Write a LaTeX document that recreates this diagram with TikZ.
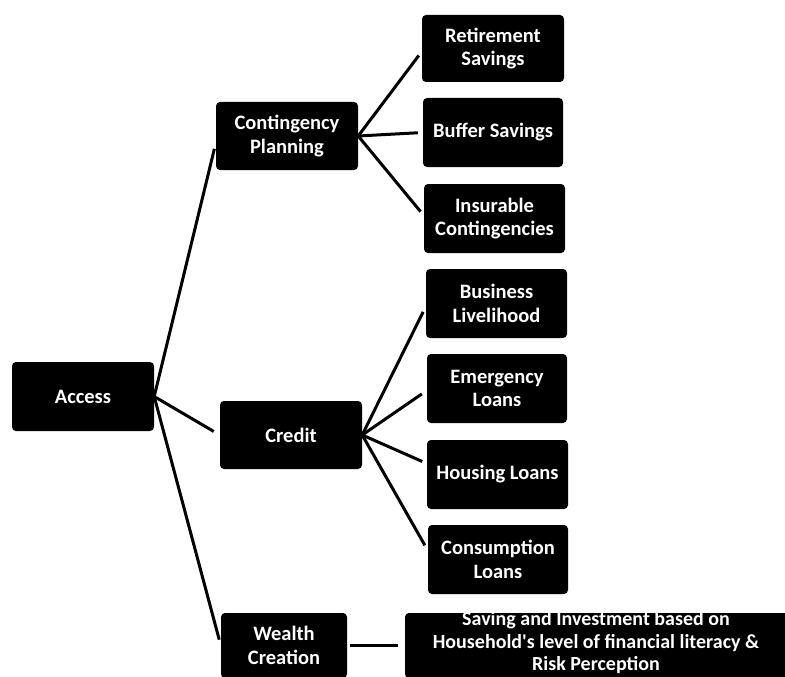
\documentclass[tikz,border=0pt]{standalone}
\usepackage{fontspec}
\setmainfont{Carlito}
\usetikzlibrary{calc}

\tikzset{
  box/.style={fill=black, text=white, rounded corners=4pt, align=center,
    inner sep=0pt, font=\bfseries\fontsize{20.5}{23.5}\selectfont},
  link/.style={line width=3pt, black},
}

\begin{document}
\begin{tikzpicture}[x=1pt, y=-1pt]
  \useasboundingbox (0,0) rectangle (785,677);

  % root
  \node[box, minimum width=142pt, minimum height=69pt] (access) at (83,396.5) {Access};

  % second level
  \node[box, minimum width=142pt, minimum height=68pt] (cp) at (287,136) {Contingency\\Planning};
  \node[box, minimum width=142pt, minimum height=68pt] (credit) at (291,435) {Credit};
  \node[box, minimum width=126pt, minimum height=65pt] (wealth) at (284,645.5) {Wealth\\Creation};

  % contingency planning leaves
  \node[box, minimum width=142pt, minimum height=67pt] (retire) at (493,48.5) {Retirement\\Savings};
  \node[box, minimum width=140pt, minimum height=69pt] (buffer) at (493,132.5) {Buffer Savings};
  \node[box, minimum width=141pt, minimum height=69pt] (insure) at (494.5,218.5) {Insurable\\Contingencies};

  % credit leaves
  \node[box, minimum width=141pt, minimum height=69pt] (business) at (496.5,303.5) {Business\\Livelihood};
  \node[box, minimum width=140pt, minimum height=69pt] (emerg) at (497,388.5) {Emergency\\Loans};
  \node[box, minimum width=141pt, minimum height=69pt] (housing) at (497.5,474.5) {Housing Loans};
  \node[box, minimum width=140pt, minimum height=69pt] (consume) at (498,559.5) {Consumption\\Loans};

  % wealth creation leaf
  \node[box, minimum width=384pt, minimum height=65pt, font=\bfseries\fontsize{20}{22.5}\selectfont]
    (saving) at (597,645.5) {};
  \node[text=white, align=center, inner sep=0pt, font=\bfseries\fontsize{20}{22.5}\selectfont]
    (savingtext) at (596,643)
    {Saving and Investment based on\\Household\textquotesingle s level of financial literacy \&\\Risk Perception};

  % connectors from the root
  \draw[link, shorten >=6pt] (access.east) -- ($(cp.west)+(0,7)$);
  \draw[link, shorten >=7pt] (access.east) -- (credit.west);
  \draw[link, shorten >=6pt] (access.east) -- (wealth.west);

  % connectors from contingency planning
  \draw[link, shorten >=5pt] (cp.east) -- ($(retire.west)+(0,3)$);
  \draw[link, shorten >=5pt] (cp.east) -- (buffer.west);
  \draw[link, shorten >=5pt] (cp.east) -- ($(insure.west)+(0,-3)$);

  % connectors from credit
  \draw[link, shorten >=6pt] (credit.east) -- ($(business.west)+(0,3)$);
  \draw[link, shorten >=6pt] (credit.east) -- ($(emerg.west)+(0,2)$);
  \draw[link, shorten >=5pt] (credit.east) -- ($(housing.west)+(0,-11)$);
  \draw[link, shorten >=6pt] (credit.east) -- ($(consume.west)+(0,-9)$);

  % wealth creation to its leaf
  \draw[link, shorten <=3pt, shorten >=7pt] (wealth.east) -- (saving.west);
\end{tikzpicture}
\end{document}
